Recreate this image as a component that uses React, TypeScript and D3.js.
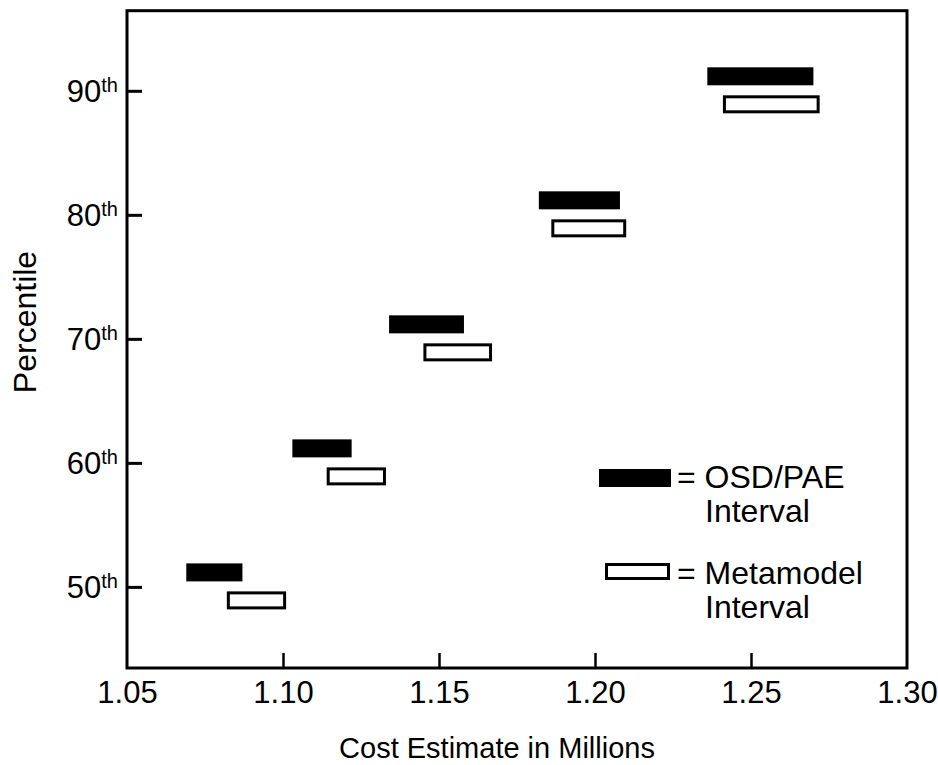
import React, { useRef, useEffect } from "react";
import * as d3 from "d3";

// percentile rows, bottom to top
const percentiles = [50, 60, 70, 80, 90];
// OSD/PAE interval (filled bars), cost in millions
const osdLow = [1.069, 1.103, 1.134, 1.182, 1.236];
const osdHigh = [1.087, 1.122, 1.158, 1.208, 1.27];
// Metamodel interval (open bars)
const metaLow = [1.082, 1.114, 1.145, 1.186, 1.241];
const metaHigh = [1.101, 1.133, 1.167, 1.21, 1.272];

const xTicks = [1.05, 1.1, 1.15, 1.2, 1.25, 1.3];

const FONT = "'Liberation Sans', Arial, Helvetica, sans-serif";

const App: React.FC = () => {
  const ref = useRef<SVGSVGElement>(null);

  useEffect(() => {
    const W = 938;
    const H = 765;
    const left = 127;
    const right = 907;
    const top = 10.7;
    const bottom = 668;

    const svg = d3.select(ref.current);
    svg.selectChildren().remove();

    const x = d3.scaleLinear().domain([1.05, 1.3]).range([left, right]);
    const y = d3.scaleLinear().domain([43.5, 96.5]).range([bottom, top]);

    // frame
    svg
      .append("rect")
      .attr("x", left)
      .attr("y", top)
      .attr("width", right - left)
      .attr("height", bottom - top)
      .attr("fill", "none")
      .attr("stroke", "#000")
      .attr("stroke-width", 3);

    // x axis (inward ticks)
    const xAxis = svg
      .append("g")
      .attr("transform", `translate(0,${bottom})`)
      .call(
        d3
          .axisBottom(x)
          .tickValues(xTicks)
          .tickSizeInner(-15)
          .tickSizeOuter(0)
          .tickPadding(13)
          .tickFormat(d3.format(".2f"))
      );
    xAxis.select(".domain").remove();
    xAxis
      .selectAll("line")
      .attr("stroke", "#000")
      .attr("stroke-width", 2.5)
      .filter((d: any) => d === 1.05 || d === 1.3)
      .remove();
    xAxis
      .selectAll("text")
      .attr("font-family", FONT)
      .attr("font-size", 31)
      .attr("fill", "#000");

    // y axis ticks and labels
    const yg = svg.append("g");
    yg.selectAll("line")
      .data(percentiles)
      .join("line")
      .attr("x1", left)
      .attr("x2", left + 15)
      .attr("y1", (d) => y(d))
      .attr("y2", (d) => y(d))
      .attr("stroke", "#000")
      .attr("stroke-width", 3);

    const lbl = yg
      .selectAll("text")
      .data(percentiles)
      .join("text")
      .attr("x", left - 9)
      .attr("y", (d) => y(d) + 11)
      .attr("text-anchor", "end")
      .attr("font-family", FONT)
      .attr("font-size", 31)
      .attr("fill", "#000");
    lbl.append("tspan").text((d) => String(d));
    lbl
      .append("tspan")
      .attr("dy", -10)
      .attr("font-size", 20)
      .text("th");

    // axis titles
    svg
      .append("text")
      .attr("x", 497)
      .attr("y", 758)
      .attr("text-anchor", "middle")
      .attr("font-family", FONT)
      .attr("font-size", 29)
      .text("Cost Estimate in Millions");

    svg
      .append("text")
      .attr("transform", `translate(36,322) rotate(-90)`)
      .attr("text-anchor", "middle")
      .attr("font-family", FONT)
      .attr("font-size", 32)
      .text("Percentile");

    const barH = 18;
    const rows = percentiles.map((p, i) => ({
      p,
      oLo: osdLow[i],
      oHi: osdHigh[i],
      mLo: metaLow[i],
      mHi: metaHigh[i],
    }));

    // OSD/PAE bars, just above the percentile tick
    svg
      .append("g")
      .selectAll("rect")
      .data(rows)
      .join("rect")
      .attr("x", (d) => x(d.oLo))
      .attr("y", (d) => y(d.p) - 15 - barH / 2)
      .attr("width", (d) => x(d.oHi) - x(d.oLo))
      .attr("height", barH)
      .attr("fill", "#000");

    // Metamodel bars, just below
    svg
      .append("g")
      .selectAll("rect")
      .data(rows)
      .join("rect")
      .attr("x", (d) => x(d.mLo) + 1.5)
      .attr("y", (d) => y(d.p) + 13 - barH / 2 + 1.5)
      .attr("width", (d) => x(d.mHi) - x(d.mLo) - 3)
      .attr("height", barH - 3)
      .attr("fill", "#fff")
      .attr("stroke", "#000")
      .attr("stroke-width", 3);

    // legend
    const lg = svg.append("g").attr("font-family", FONT).attr("font-size", 32);
    lg.append("rect")
      .attr("x", 599)
      .attr("y", 469)
      .attr("width", 72)
      .attr("height", 18)
      .attr("fill", "#000");
    lg.append("text").attr("x", 677).attr("y", 488).text("= OSD/PAE");
    lg.append("text").attr("x", 705).attr("y", 522).text("Interval");

    lg.append("rect")
      .attr("x", 606.5)
      .attr("y", 564.5)
      .attr("width", 62)
      .attr("height", 14)
      .attr("fill", "#fff")
      .attr("stroke", "#000")
      .attr("stroke-width", 3);
    lg.append("text").attr("x", 677).attr("y", 584).text("= Metamodel");
    lg.append("text").attr("x", 705).attr("y", 618).text("Interval");

    svg.attr("width", W).attr("height", H);
  }, []);

  return (
    <svg
      ref={ref}
      width={938}
      height={765}
      style={{ position: "absolute", left: 0, top: 0, background: "#fff" }}
    />
  );
};

export default App;
